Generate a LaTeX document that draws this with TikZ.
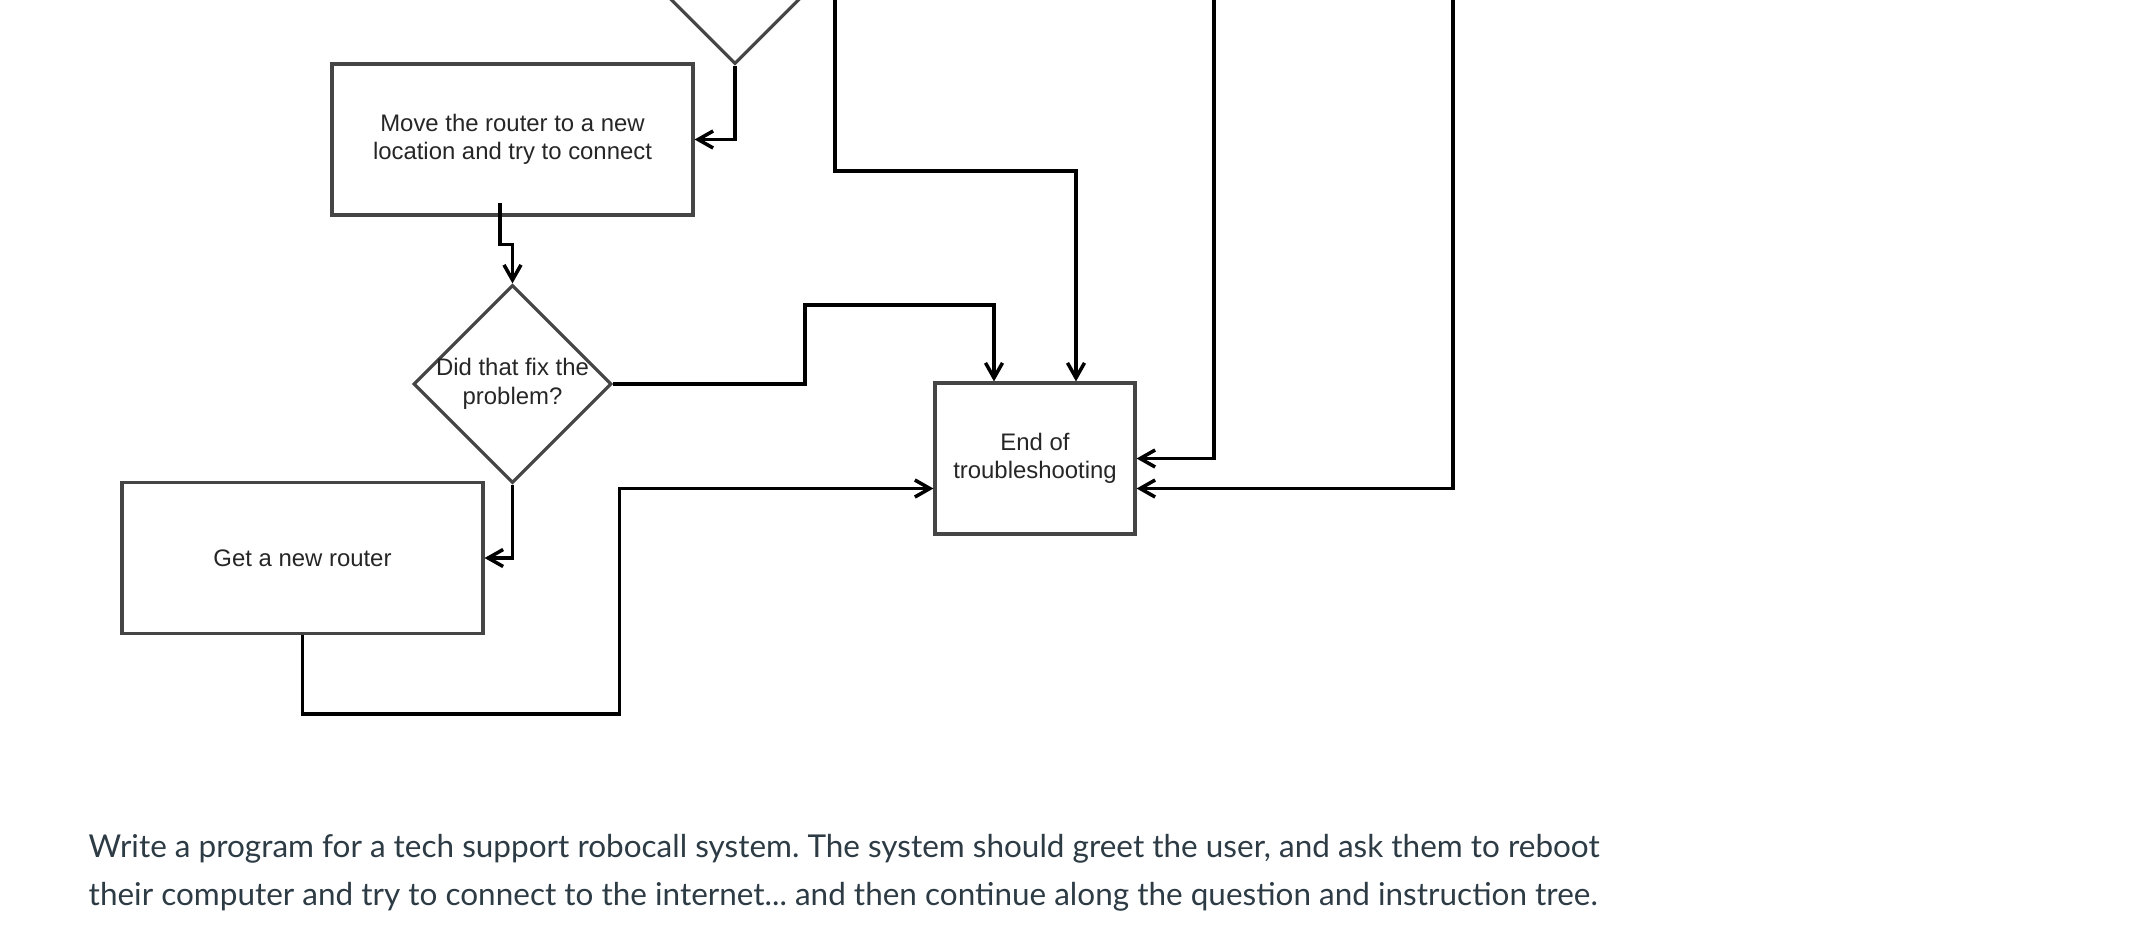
\documentclass[tikz,border=0pt]{standalone}
\usepackage{fontspec}
\setmainfont{Liberation Sans}
\newfontfamily\latofont{Lato}
\usetikzlibrary{arrows.meta,calc,positioning,shapes.geometric}
\definecolor{boxgray}{rgb}{0.27, 0.27, 0.27}
\definecolor{slatetext}{HTML}{2D3B45}
\tikzset{
  proc/.style={
    draw=boxgray,
    line width=0.9pt,
    align=center,
    minimum width=3.61cm,
    minimum height=1.51cm,
    inner sep=2pt,
    text=black!85,
    font=\fontsize{6.8}{8.1}\selectfont
  },
  decision/.style={
    diamond,
    aspect=1,
    draw=boxgray,
    line width=0.9pt,
    minimum width=1.98cm,
    minimum height=1.98cm,
    inner sep=0pt
  },
  arrow/.style={
    -{Straight Barb[length=1.5mm,width=1.7mm]},
    line width=1pt,
    black
  }
}

\begin{document}
\begin{tikzpicture}
\useasboundingbox (0,0) rectangle (21.49,-9.49);
\clip (0,0) rectangle (21.49,-9.49);
% nodes
\node[decision] (ask) at (7.35,0.35) {};
\node[proc] (move) at (5.125,-1.395) {Move the router to a new\\location and try to connect};
\node[decision, label={[proc, draw=none, minimum width=0pt, minimum height=0pt]center:Did that fix the\\problem?}] (fix) at (5.125,-3.84) {};
\node[proc] (get) at (3.025,-5.58) {Get a new router};
\node[proc, minimum width=2cm] (end) at (10.35,-4.585) {End of\\troubleshooting};
\coordinate (up1) at (8.35,0.1);
\coordinate (up2) at (12.14,0.1);
\coordinate (up3) at (14.53,0.1);
% connectors
\draw[arrow] (ask.south) |- (move.east);
\draw[arrow] ($(move.south)+(-0.125,0.14)$) -- ++(0,-0.42) -| (fix.north);
\draw[arrow] (fix.east) -- ++(1.92,0) -- ++(0,0.79) -| ($(end.north)+(-0.41,0)$);
\draw[arrow] (up1) -- ++(0,-1.81) -| ($(end.north)+(0.41,0)$);
\draw[arrow] (up2) |- (end.east);
\draw[arrow] (up3) |- ($(end.east)+(0,-0.3)$);
\draw[arrow] (fix.south) |- (get.east);
\draw[arrow] (get.south) -- ++(0,-0.79) -- ++(3.17,0) |- ($(end.west)+(0,-0.3)$);
% task text
\node[anchor=base west, align=left, inner sep=0pt, text=slatetext, font=\latofont\fontsize{8.96}{13.66}\selectfont\frenchspacing] (task) at (0.88,-9.05)
  {Write a program for a tech support robocall system. The system should greet the user, and ask them to reboot\\their computer and try to connect to the internet... and then continue along the question and instruction tree.};
\end{tikzpicture}
\end{document}
